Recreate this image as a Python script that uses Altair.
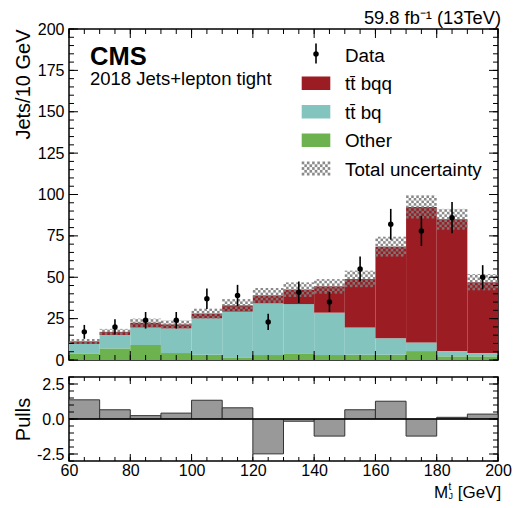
import math
import altair as alt
import pandas as pd

# ---------------- values ----------------
bin_lo = [60, 70, 80, 90, 100, 110, 120, 130, 140, 150, 160, 170, 180, 190]
bin_hi = [70, 80, 90, 100, 110, 120, 130, 140, 150, 160, 170, 180, 190, 200]
other = [4.0, 7.0, 9.1, 4.2, 3.2, 1.6, 3.0, 4.0, 3.0, 3.2, 3.2, 5.4, 2.2, 2.2]
ttbq = [5.7, 8.1, 10.6, 14.9, 22.0, 27.6, 31.2, 29.8, 25.6, 16.5, 9.9, 5.2, 3.2, 2.0]
ttbqq = [1.5, 1.9, 2.8, 2.4, 2.8, 3.8, 4.8, 8.7, 15.9, 29.3, 55.4, 81.9, 79.6, 42.8]
unc = [1.5, 1.8, 2.5, 2.4, 3.0, 3.8, 4.5, 4.4, 4.4, 5.0, 6.0, 7.0, 6.3, 4.9]
data_n = [17, 20, 24, 24, 37, 39, 23, 41, 35, 55, 82, 78, 86, 50]
data_err = [4.2, 4.6, 5.0, 5.0, 6.2, 6.4, 4.9, 6.5, 6.0, 7.5, 9.3, 9.1, 9.4, 7.3]
pulls = [1.37, 0.66, 0.24, 0.42, 1.34, 0.80, -2.49, -0.16, -1.22, 0.66, 1.27, -1.22, 0.12, 0.35]

x_major = [60, 80, 100, 120, 140, 160, 180, 200]
x_minor = [60, 65, 70, 75, 80, 85, 90, 95, 100, 105, 110, 115, 120, 125, 130, 135,
           140, 145, 150, 155, 160, 165, 170, 175, 180, 185, 190, 195, 200]
y_top_major = [0, 25, 50, 75, 100, 125, 150, 175, 200]
y_top_minor = [0, 5, 10, 15, 20, 25, 30, 35, 40, 45, 50, 55, 60, 65, 70, 75, 80, 85, 90, 95,
               100, 105, 110, 115, 120, 125, 130, 135, 140, 145, 150, 155, 160, 165, 170,
               175, 180, 185, 190, 195, 200]
y_bot_major = [-2.5, 0.0, 2.5]
y_bot_minor = [-3.0, -2.5, -2.0, -1.5, -1.0, -0.5, 0.0, 0.5, 1.0, 1.5, 2.0, 2.5, 3.0]

LBL_BQQ = "t" + "t\u0304" + " bqq"
LBL_BQ = "t" + "t\u0304" + " bq"
LBL_OTH = "Other"
LBL_UNC = "Total uncertainty"
LBL_DATA = "Data"

# ---------------- styling ----------------
FONT = "Liberation Sans"
C_BQQ = "#9b1d23"
C_BQ = "#83c4bf"
C_OTH = "#6cb24e"
C_HATCH = "#7d7d7d"

W = 429
H_TOP = 331
H_BOT = 84
HATCH_COLS = 12          # hatch cells across one 10 GeV bin
HATCH_DY = 1.55          # hatch cell height in y units (~2.6 px)

xs = alt.Scale(domain=[60, 200], nice=False, zero=False)
ys_top = alt.Scale(domain=[0, 200], nice=False, zero=False)
ys_bot = alt.Scale(domain=[-3, 3], nice=False, zero=False)

ax_y_top = dict(
    values=y_top_major, ticks=False, tickSize=0, domain=False, grid=False,
    labelFontSize=16, labelPadding=5, labelFont=FONT, labelColor="black",
    title="Jets/10 GeV", titleFont=FONT, titleFontSize=20, titleFontWeight="normal",
    titleColor="black", titleX=-46, titleY=0, titleAngle=270,
    titleAlign="right", titleBaseline="middle")
ax_x_bot = dict(
    values=x_major, ticks=False, tickSize=0, domain=False, grid=False,
    labelFlush=False, labelOverlap=False, labelFontSize=16, labelPadding=1,
    labelFont=FONT, labelColor="black", title="")
ax_y_bot = dict(
    values=y_bot_major, ticks=False, tickSize=0, domain=False, grid=False,
    labelFontSize=16, labelPadding=5, labelFont=FONT, labelColor="black",
    labelExpr="datum.value < 0 ? '-' + format(-datum.value, '.1f') : format(datum.value, '.1f')",
    title="Pulls", titleFont=FONT, titleFontSize=20, titleFontWeight="normal",
    titleColor="black", titleX=-46, titleY=H_BOT / 2, titleAngle=270,
    titleAlign="center", titleBaseline="middle")


def XT(field):
    return alt.X(field, scale=xs, axis=None)


def YT(field):
    return alt.Y(field, scale=ys_top, axis=alt.Axis(**ax_y_top))


def XB(field):
    return alt.X(field, scale=xs, axis=alt.Axis(**ax_x_bot))


def YB(field):
    return alt.Y(field, scale=ys_bot, axis=alt.Axis(**ax_y_bot))


# ---------------- tables ----------------
rows = []
for i in range(len(bin_lo)):
    base = 0.0
    for name, vals in [(LBL_OTH, other), (LBL_BQ, ttbq), (LBL_BQQ, ttbqq)]:
        rows.append({"lo": bin_lo[i], "hi": bin_hi[i], "comp": name,
                     "y0": base, "y1": base + vals[i]})
        base += vals[i]
stack_df = pd.DataFrame(rows)

bins_df = pd.DataFrame({"lo": bin_lo, "hi": bin_hi})
bins_df["total"] = [o + b + q for o, b, q in zip(other, ttbq, ttbqq)]
bins_df["ulo"] = bins_df["total"] - pd.Series(unc)
bins_df["uhi"] = bins_df["total"] + pd.Series(unc)
bins_df["mid"] = (bins_df["lo"] + bins_df["hi"]) / 2
bins_df["n"] = data_n
bins_df["dlo"] = bins_df["n"] - pd.Series(data_err)
bins_df["dhi"] = bins_df["n"] + pd.Series(data_err)
bins_df["pull"] = pulls
bins_df["zero"] = 0.0

# cross-hatch cells of the uncertainty band (checker pattern inside each band)
cells = []
for _, r in bins_df.iterrows():
    dx = (r["hi"] - r["lo"]) / HATCH_COLS
    nrow = int(math.ceil((r["uhi"] - r["ulo"]) / HATCH_DY))
    for j in range(nrow):
        c0 = r["ulo"] + j * HATCH_DY
        c1 = min(c0 + HATCH_DY, r["uhi"])
        for k in range(HATCH_COLS):
            if (j + k) % 2 == 0:
                cells.append({"x0": r["lo"] + k * dx, "x1": r["lo"] + (k + 1) * dx,
                              "c0": c0, "c1": c1})
hatch_df = pd.DataFrame(cells)

one = pd.DataFrame({"z": [0.0]})


def text_layer(txt, x, y, size, weight="normal", align="left"):
    return alt.Chart(pd.DataFrame({"t": [txt]})).mark_text(
        font=FONT, fontSize=size, fontWeight=weight, align=align,
        baseline="alphabetic", color="black"
    ).encode(text="t:N", x=alt.value(x), y=alt.value(y))


def x_ticks(values, H, L, XF):
    df = pd.DataFrame({"v": values})
    b = alt.Chart(df).mark_rule(color="black", strokeWidth=1).encode(
        x=XF("v:Q"), y=alt.value(H), y2=alt.value(H - L))
    t = alt.Chart(df).mark_rule(color="black", strokeWidth=1).encode(
        x=XF("v:Q"), y=alt.value(0), y2=alt.value(L))
    return [b, t]


def y_ticks(values, L, YF):
    df = pd.DataFrame({"v": values})
    lft = alt.Chart(df).mark_rule(color="black", strokeWidth=1).encode(
        y=YF("v:Q"), x=alt.value(0), x2=alt.value(L))
    rgt = alt.Chart(df).mark_rule(color="black", strokeWidth=1).encode(
        y=YF("v:Q"), x=alt.value(W), x2=alt.value(W - L))
    return [lft, rgt]


# ---------------- top panel ----------------
stack = alt.Chart(stack_df).mark_rect().encode(
    x=XT("lo:Q"), x2="hi:Q",
    y=YT("y0:Q"), y2="y1:Q",
    color=alt.Color("comp:N", legend=None, scale=alt.Scale(
        domain=[LBL_BQQ, LBL_BQ, LBL_OTH], range=[C_BQQ, C_BQ, C_OTH])),
)

hatch = alt.Chart(hatch_df).mark_rect(fill=C_HATCH, opacity=0.9).encode(
    x=XT("x0:Q"), x2="x1:Q", y=YT("c0:Q"), y2="c1:Q")

errs = alt.Chart(bins_df).mark_rule(color="black", strokeWidth=1.6).encode(
    x=XT("mid:Q"), y=YT("dlo:Q"), y2="dhi:Q")

pts = alt.Chart(bins_df).mark_point(filled=True, color="black", size=30, opacity=1,
                                    shape="circle").encode(
    x=XT("mid:Q"), y=YT("n:Q"))

# legend (manual, ROOT style)
LX0, LX1, LTX = 232.7, 261.3, 276
LFS = 18.8
leg = []
base0, gap = 32.5, 28.5
b = base0
leg.append(alt.Chart(one).mark_rule(color="black", strokeWidth=1.6).encode(
    x=alt.value((LX0 + LX1) / 2), y=alt.value(b - 18), y2=alt.value(b + 2)))
leg.append(alt.Chart(one).mark_point(filled=True, color="black", size=30, opacity=1,
                                     shape="circle").encode(
    x=alt.value((LX0 + LX1) / 2), y=alt.value(b - 7.5)))
leg.append(text_layer(LBL_DATA, LTX, b, LFS))
for i, (lbl, col) in enumerate([(LBL_BQQ, C_BQQ), (LBL_BQ, C_BQ), (LBL_OTH, C_OTH)]):
    b = base0 + gap * (i + 1)
    leg.append(alt.Chart(one).mark_rect(fill=col).encode(
        x=alt.value(LX0), x2=alt.value(LX1), y=alt.value(b - 13.5), y2=alt.value(b)))
    leg.append(text_layer(lbl, LTX, b, LFS))
# hatched swatch for the uncertainty
b = base0 + gap * 4
sw_cols, sw_rows = 11, 5
cw, ch = (LX1 - LX0) / sw_cols, 14.0 / sw_rows
sw = []
for j in range(sw_rows):
    for k in range(sw_cols):
        if (j + k) % 2 == 0:
            sw.append({"px0": LX0 + k * cw, "px1": LX0 + (k + 1) * cw,
                       "py0": b - 14 + j * ch, "py1": b - 14 + (j + 1) * ch})
leg.append(alt.Chart(pd.DataFrame(sw)).mark_rect(fill=C_HATCH, opacity=0.9).encode(
    x=alt.X("px0:Q", scale=None), x2="px1:Q", y=alt.Y("py0:Q", scale=None), y2="py1:Q"))
leg.append(text_layer(LBL_UNC, LTX, b, LFS))

texts = [
    text_layer("CMS", 21, 36, 25.5, weight="bold"),
    text_layer("2018 Jets+lepton tight", 21, 55.5, 18.5),
    text_layer("59.8 fb\u207B\u00B9 (13TeV)", W + 3, -4.8, 18.3, align="right"),
]

top_layers = [stack, hatch, errs, pts] + leg + texts \
    + x_ticks(x_minor, H_TOP, 5, XT) + x_ticks(x_major, H_TOP, 9, XT) \
    + y_ticks(y_top_minor, 5, YT) + y_ticks(y_top_major, 9, YT)
top = alt.layer(*top_layers).properties(width=W, height=H_TOP)

# ---------------- pulls panel ----------------
pull_bars = alt.Chart(bins_df).mark_rect(fill="#999999", stroke="#333333", strokeWidth=1).encode(
    x=XB("lo:Q"), x2="hi:Q", y=YB("zero:Q"), y2="pull:Q")

zero_line = alt.Chart(one).mark_rule(color="black", strokeWidth=1.5).encode(y=YB("z:Q"))

xtitle = [
    text_layer("M", 365, H_BOT + 37, 17),
    text_layer("t", 379.5, H_BOT + 29, 10),
    text_layer("J", 379.5, H_BOT + 38, 9),
    text_layer("[GeV]", 388.7, H_BOT + 37, 17),
]

bot_layers = [pull_bars, zero_line] + xtitle \
    + x_ticks(x_minor, H_BOT, 4, XB) + x_ticks(x_major, H_BOT, 7, XB) \
    + y_ticks(y_bot_minor, 5, YB) + y_ticks(y_bot_major, 9, YB)
bottom = alt.layer(*bot_layers).properties(width=W, height=H_BOT)

chart = alt.vconcat(top, bottom, spacing=6).properties(
    padding={"left": 4, "top": 0, "right": 0, "bottom": 0}
).configure_view(stroke="black", strokeWidth=1.5)

chart.save("out.html", embed_options={"renderer": "svg", "actions": False})
